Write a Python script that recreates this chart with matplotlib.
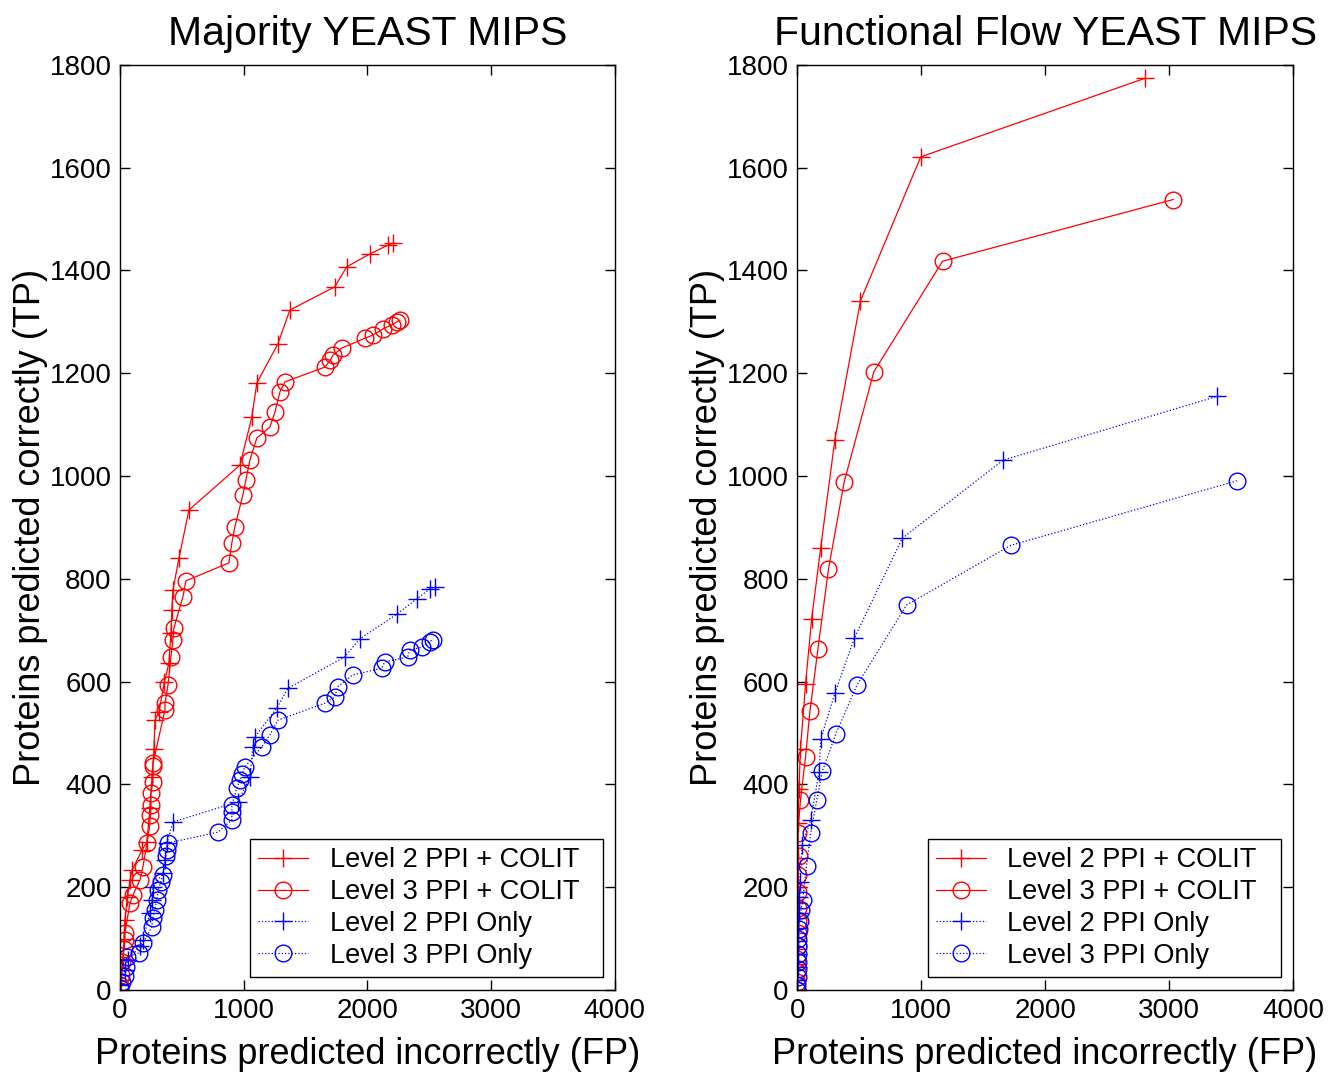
import numpy as np
import matplotlib
matplotlib.use("Agg")
import matplotlib.pyplot as plt

plt.rcParams["font.family"] = ["Liberation Sans", "DejaVu Sans"]

# --- Majority YEAST MIPS (FP, TP) ---
maj_l2_colit_fp = [0, 10, 25, 32, 40, 60, 81, 97, 178, 218, 242, 259, 275, 283, 315, 360, 396, 412,
                   420, 428, 477, 558, 970, 1067, 1107, 1277, 1374, 1737, 1834, 2020, 2166, 2206]
maj_l2_colit_tp = [0, 20, 60, 100, 136, 180, 214, 233, 272, 288, 354, 414, 469, 525, 541, 600, 636, 694,
                   740, 778, 840, 934, 1021, 1115, 1181, 1257, 1323, 1368, 1407, 1432, 1449, 1453]

maj_l3_colit_fp = [0, 10, 20, 30, 40, 40, 81, 105, 162, 186, 218, 240, 245, 250, 250, 267, 267, 267,
                   364, 364, 388, 412, 428, 436, 509, 533, 881, 905, 929, 994, 1018, 1051, 1107, 1212,
                   1253, 1293, 1333, 1657, 1700, 1722, 1794, 1980, 2044, 2125, 2198, 2240, 2263]
maj_l3_colit_tp = [10, 30, 55, 80, 98, 111, 169, 185, 214, 240, 286, 320, 340, 360, 383, 405, 435, 441,
                   545, 558, 593, 648, 681, 704, 765, 796, 831, 870, 901, 963, 992, 1031, 1074, 1095,
                   1124, 1163, 1183, 1212, 1225, 1235, 1249, 1268, 1274, 1286, 1294, 1300, 1303]

maj_l2_only_fp = [0, 40, 65, 162, 186, 242, 258, 267, 348, 364, 380, 428, 954, 1051, 1075, 1091,
                  1269, 1358, 1818, 1939, 2238, 2400, 2505, 2545]
maj_l2_only_tp = [10, 38, 58, 85, 97, 150, 175, 200, 227, 253, 286, 327, 366, 414, 473, 492,
                  549, 587, 648, 683, 731, 761, 780, 784]

maj_l3_only_fp = [0, 20, 40, 50, 57, 154, 186, 258, 265, 280, 299, 310, 330, 348, 370, 380, 388,
                  792, 905, 905, 905, 945, 970, 990, 1010, 1147, 1212, 1277, 1657, 1737, 1762, 1883,
                  2117, 2141, 2327, 2343, 2440, 2505, 2529]
maj_l3_only_tp = [4, 15, 27, 45, 64, 72, 91, 123, 140, 156, 175, 195, 210, 224, 260, 273, 286,
                  307, 331, 347, 360, 393, 408, 420, 434, 473, 496, 525, 558, 570, 590, 613,
                  626, 638, 648, 661, 667, 678, 681]

# --- Functional Flow YEAST MIPS (FP, TP) ---
ff_l2_colit_fp = [0, 0, 2, 3, 5, 5, 5, 8, 5, 8, 14, 27, 68, 117, 190, 304, 511, 997, 2807]
ff_l2_colit_tp = [0, 20, 50, 80, 110, 140, 170, 200, 257, 324, 391, 469, 596, 722, 860, 1070, 1341, 1621, 1774]

ff_l3_colit_fp = [0, 0, 0, 2, 3, 3, 5, 5, 8, 10, 12, 5, 27, 68, 103, 168, 253, 380, 619, 1173, 3034]
ff_l3_colit_tp = [0, 15, 35, 60, 85, 110, 135, 160, 190, 223, 260, 305, 369, 454, 542, 664, 819, 989,
                  1203, 1418, 1538]

ff_l2_only_fp = [0, 2, 3, 5, 5, 8, 12, 15, 20, 41, 109, 177, 190, 304, 462, 848, 1662, 3389]
ff_l2_only_tp = [0, 20, 45, 70, 95, 120, 150, 180, 210, 283, 331, 424, 488, 577, 685, 879, 1031, 1155]

ff_l3_only_fp = [0, 2, 3, 4, 5, 6, 8, 10, 12, 20, 30, 45, 76, 109, 158, 204, 313, 484, 883, 1722, 3551]
ff_l3_only_tp = [0, 10, 25, 40, 55, 70, 85, 100, 118, 135, 155, 175, 242, 305, 369, 426, 499, 594,
                 749, 865, 991]

labels = ["Level 2 PPI + COLIT", "Level 3 PPI + COLIT", "Level 2 PPI Only", "Level 3 PPI Only"]
x_ticks = [0, 1000, 2000, 3000, 4000]
y_ticks = [0, 200, 400, 600, 800, 1000, 1200, 1400, 1600, 1800]


def draw_panel(ax, series, title):
    styles = [("r", "-", "+"), ("r", "-", "o"), ("b", ":", "+"), ("b", ":", "o")]
    for (fp, tp), (c, ls, m), lab in zip(series, styles, labels):
        ax.plot(fp, tp, color=c, ls=ls, lw=0.9, marker=m, ms=13 if m == "+" else 12,
                mfc="none", mec=c, mew=1.0, label=lab)
    ax.set_xlim(0, 4000)
    ax.set_ylim(0, 1800)
    ax.set_xticks(x_ticks)
    ax.set_yticks(y_ticks)
    ax.tick_params(direction="in", top=True, right=True, length=7, width=1, labelsize=20, pad=6)
    for spine in ax.spines.values():
        spine.set_linewidth(1.0)
    ax.set_title(title, fontsize=29.5, pad=14)
    ax.set_xlabel("Proteins predicted incorrectly (FP)", fontsize=26, labelpad=9)
    ax.set_ylabel("Proteins predicted correctly (TP)", fontsize=26, labelpad=1)
    # legend box spans the lower right of the axes like the MATLAB original
    leg = ax.legend(loc="lower left", bbox_to_anchor=(0.263, 0.014, 0.713, 0.145), mode="expand",
                    fontsize=19.5, numpoints=1, handlelength=1.85, fancybox=False, framealpha=1,
                    borderpad=0.3, labelspacing=0.22, handletextpad=0.8, borderaxespad=0)
    leg.get_frame().set_edgecolor("k")
    leg.get_frame().set_linewidth(1.0)


fig = plt.figure(figsize=(13.33, 10.72), dpi=100, facecolor="w")
ax1 = fig.add_axes([0.090, 0.0765, 0.371, 0.863])
ax2 = fig.add_axes([0.598, 0.0765, 0.372, 0.863])

draw_panel(ax1, [(maj_l2_colit_fp, maj_l2_colit_tp), (maj_l3_colit_fp, maj_l3_colit_tp),
                 (maj_l2_only_fp, maj_l2_only_tp), (maj_l3_only_fp, maj_l3_only_tp)],
           "Majority YEAST MIPS")
draw_panel(ax2, [(ff_l2_colit_fp, ff_l2_colit_tp), (ff_l3_colit_fp, ff_l3_colit_tp),
                 (ff_l2_only_fp, ff_l2_only_tp), (ff_l3_only_fp, ff_l3_only_tp)],
           "Functional Flow YEAST MIPS")

fig.savefig("out.png", dpi=100)
